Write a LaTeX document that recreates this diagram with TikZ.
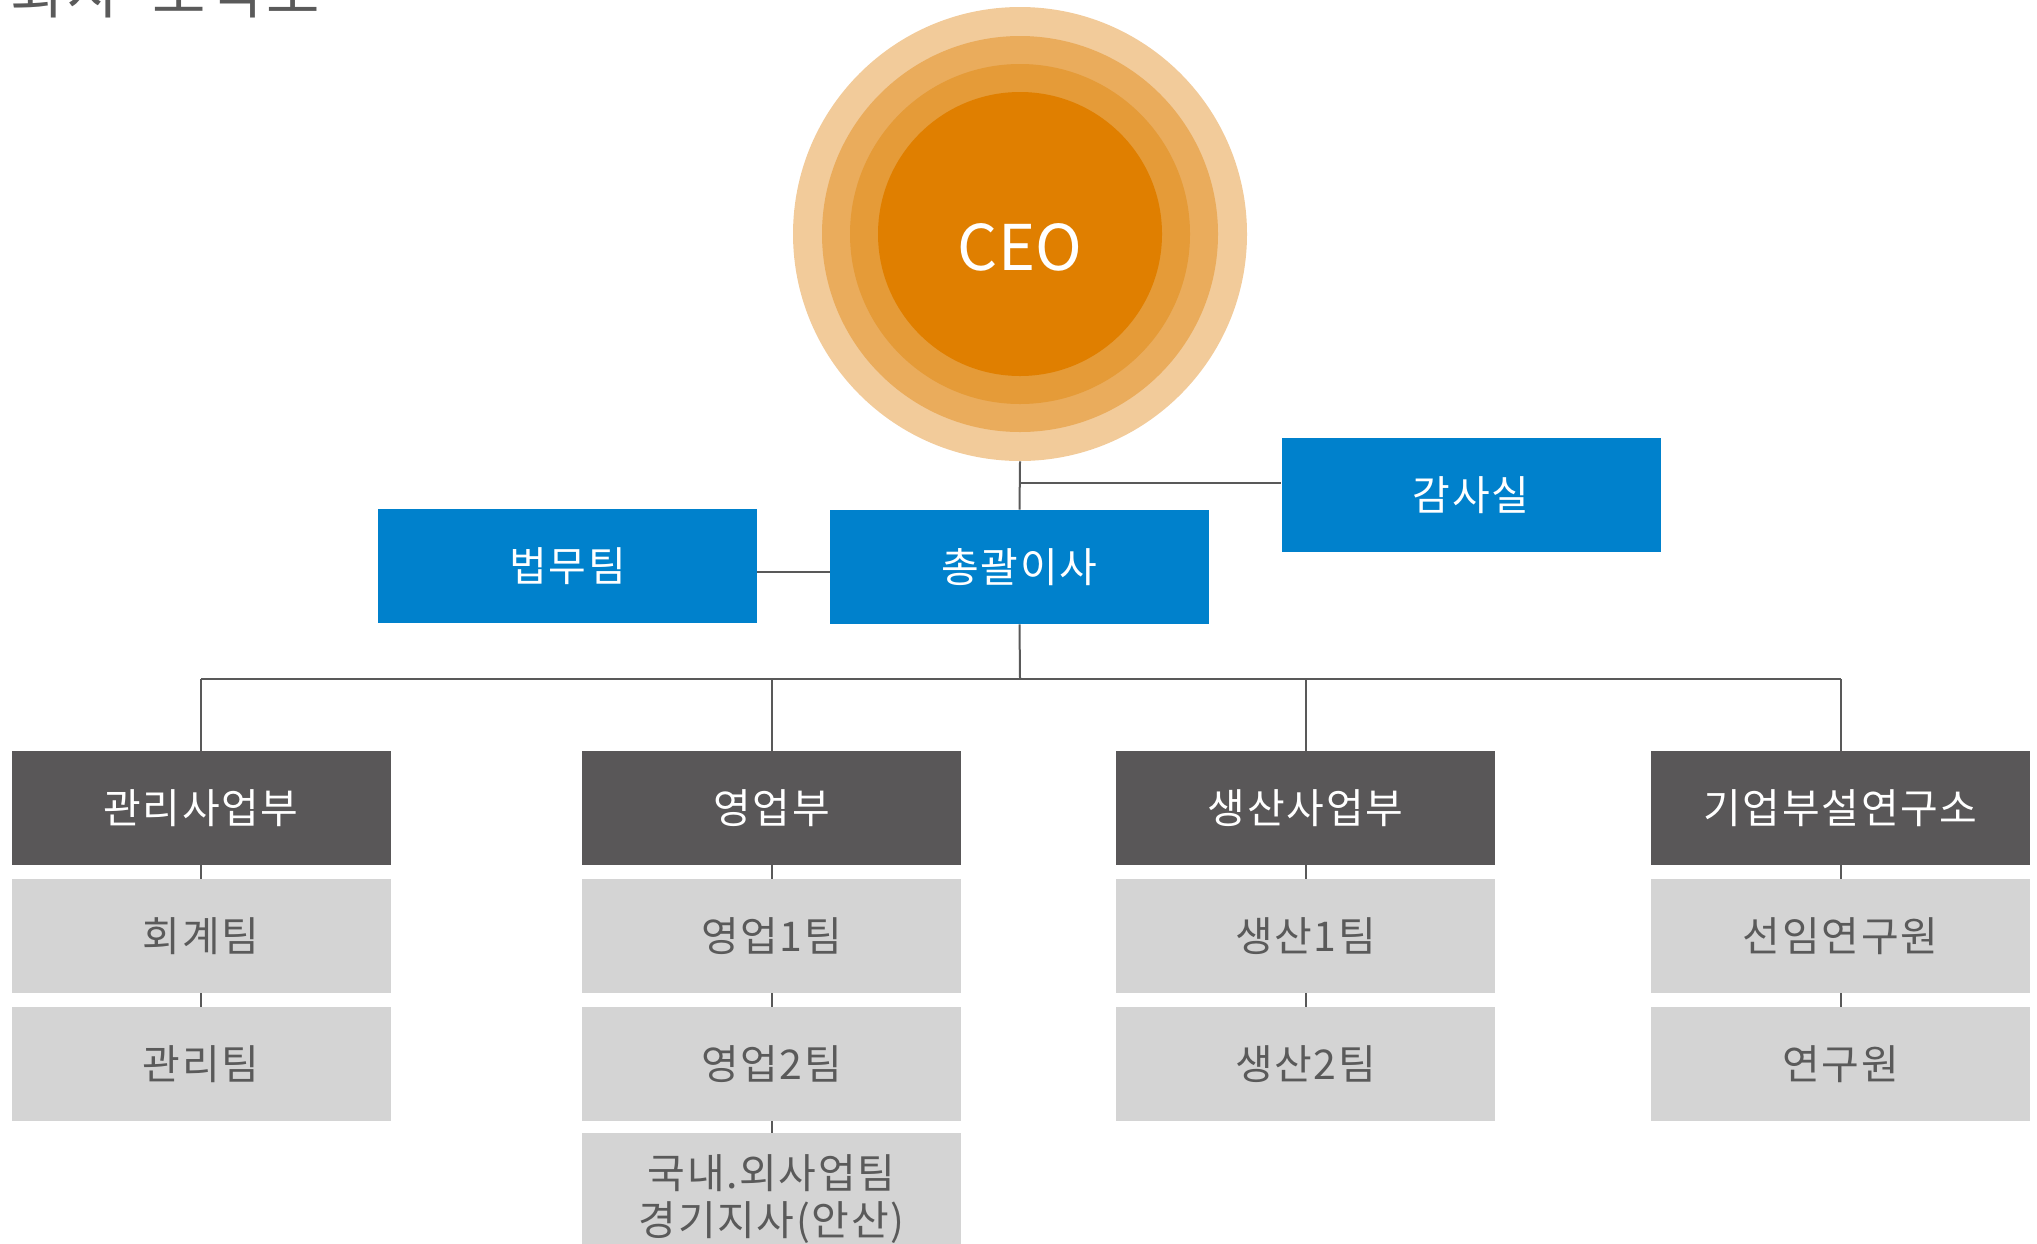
\documentclass[tikz,border=0pt]{standalone}
\usepackage{fontspec}
\setmainfont{Noto Sans CJK KR}
\newfontfamily\krsp{Noto Sans CJK KR}[LetterSpace=4]
\newfontfamily\krtitle{Noto Sans CJK KR}[LetterSpace=6]
\definecolor{cblue}{HTML}{0081CC}
\definecolor{cdark}{HTML}{595758}
\definecolor{clight}{HTML}{D4D4D4}
\definecolor{ctext}{HTML}{5A5A5A}
\definecolor{linegray}{HTML}{595959}
\definecolor{ringA}{HTML}{F2CB9A}
\definecolor{ringB}{HTML}{EAAC5C}
\definecolor{ringC}{HTML}{E59B38}
\definecolor{ringD}{HTML}{E07F00}
\begin{document}
\begin{tikzpicture}[x=0.5pt,y=-0.5pt,
  conn/.style={draw=linegray, line width=1pt},
  boxbase/.style={rectangle, minimum width=189.5pt, minimum height=57pt, inner sep=0pt, font=\krsp\fontsize{20.5}{24}\selectfont, align=center},
  bluebox/.style={boxbase, fill=cblue, text=white},
  headbox/.style={boxbase, fill=cdark, text=white},
  teambox/.style={boxbase, fill=clight, text=ctext},
  ring/.style={circle, inner sep=0pt}]
\clip (0,0) rectangle (2037,1243);
\useasboundingbox (0,0) rectangle (2037,1243);

% title (cut off at the top, as in the reference)
\node[anchor=base west, inner sep=0pt, text=ctext, font=\krtitle\fontsize{29}{34}\selectfont] (title) at (10,13) {회사\hspace{0.55em}조직도};

% CEO circles
\node[ring, fill=ringA, minimum size=227pt] (ringA) at (1020,234) {};
\node[ring, fill=ringB, minimum size=198pt] (ringB) at (1020,234) {};
\node[ring, fill=ringC, minimum size=170pt] (ringC) at (1020,234) {};
\node[ring, fill=ringD, minimum size=142pt, text=white, font=\fontsize{31.5}{36}\selectfont, text height=36pt, text depth=0pt] (ceo) at (1020,234) {CEO};

% blue boxes
\node[bluebox] (beop) at (567.5,566) {법무팀};
\node[bluebox] (chong) at (1019.5,567) {총괄이사};
\node[bluebox] (gamsa) at (1471,495) {감사실};

% headers
\node[headbox] (h1) at (201,808) {관리사업부};
\node[headbox] (h2) at (771.5,808) {영업부};
\node[headbox] (h3) at (1305.5,808) {생산사업부};
\node[headbox] (h4) at (1840.5,808) {기업부설연구소};

% teams
\node[teambox] (a1) at (201,936) {회계팀};
\node[teambox] (a2) at (201,1064) {관리팀};
\node[teambox] (b1) at (771.5,936) {영업1팀};
\node[teambox] (b2) at (771.5,1064) {영업2팀};
\node[teambox, font=\krsp\fontsize{20.5}{23.5}\selectfont, text height=45pt, text depth=0pt] (b3) at (771.5,1190) {국내.외사업팀\\경기지사(안산)};
\node[teambox] (c1) at (1305.5,936) {생산1팀};
\node[teambox] (c2) at (1305.5,1064) {생산2팀};
\node[teambox] (d1) at (1840.5,936) {선임연구원};
\node[teambox] (d2) at (1840.5,1064) {연구원};

% junction coordinates
\coordinate (jg) at (1020,483);
\coordinate (jb) at (0,572);
\coordinate (bus) at (1020,679);

% connectors
\draw[conn] (ringA.south) -- (chong.north);
\draw[conn] (jg) -- (jg -| gamsa.west);
\draw[conn] (beop.east |- jb) -- (chong.west |- jb);
\draw[conn] (chong.south) -- (bus);
\draw[conn] (bus -| h1.north) -- (bus -| h4.north);
\draw[conn] (bus -| h1.north) -- (h1.north);
\draw[conn] (bus -| h2.north) -- (h2.north);
\draw[conn] (bus -| h3.north) -- (h3.north);
\draw[conn] (bus -| h4.north) -- (h4.north);
\draw[conn] (h1.south) -- (a1.north);
\draw[conn] (a1.south) -- (a2.north);
\draw[conn] (h2.south) -- (b1.north);
\draw[conn] (b1.south) -- (b2.north);
\draw[conn] (b2.south) -- (b3.north);
\draw[conn] (h3.south) -- (c1.north);
\draw[conn] (c1.south) -- (c2.north);
\draw[conn] (h4.south) -- (d1.north);
\draw[conn] (d1.south) -- (d2.north);
\end{tikzpicture}
\end{document}
